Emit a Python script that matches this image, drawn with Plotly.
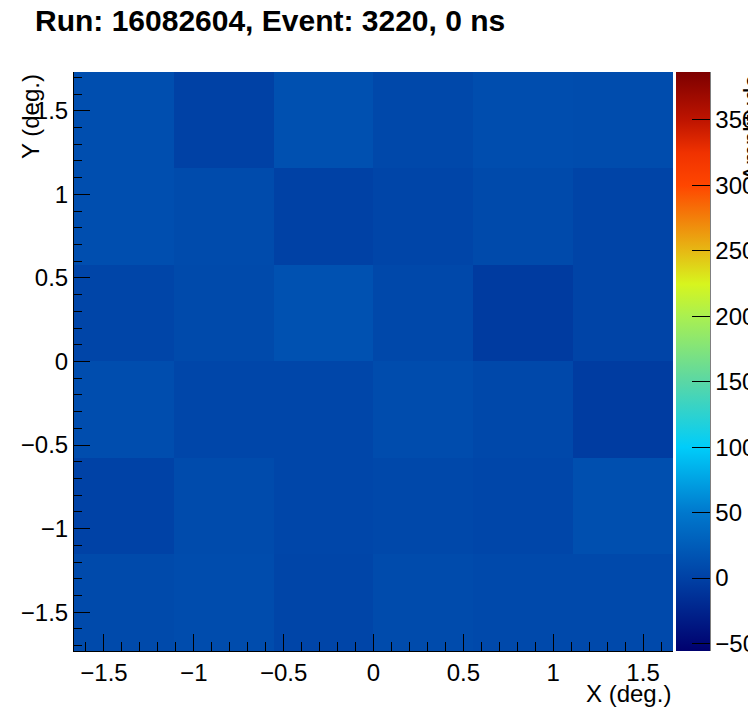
import plotly.graph_objects as go

# Bin centres (deg.)
x_centers = [-1.3889, -0.8333, -0.2778, 0.2778, 0.8333, 1.3889]
y_centers = [-1.4434, -0.8660, -0.2887, 0.2887, 0.8660, 1.4434]

# Amplitudes, rows from bottom (y=-1.44) to top (y=+1.44)
amplitude = [
    [8, 10, 4, 9, 7, 7],
    [1, 9, 5, 6, 5, 13],
    [11, 5, 5, 10, 6, -4],
    [4, 8, 15, 6, -5, 3],
    [12, 9, 0, 4, 8, 3],
    [12, 0, 14, 6, 11, 10],
]

z_min, z_max = -55.7, 386.5
cbar_ticks = [-50, 0, 50, 100, 150, 200, 250, 300, 350]

title_text = "Run: 16082604, Event: 3220, 0 ns"
x_title = "X (deg.)"
y_title = "Y (deg.)"
z_title = "Amplitude"

palette = [
    [0.000, "rgb(0,0,110)"],
    [0.126, "rgb(0,65,165)"],
    [0.239, "rgb(0,120,205)"],
    [0.352, "rgb(0,205,250)"],
    [0.465, "rgb(90,215,165)"],
    [0.578, "rgb(170,240,80)"],
    [0.634, "rgb(215,245,30)"],
    [0.691, "rgb(230,185,20)"],
    [0.804, "rgb(255,70,0)"],
    [0.860, "rgb(240,50,0)"],
    [0.917, "rgb(190,20,0)"],
    [1.000, "rgb(125,0,0)"],
]

FONT = "Liberation Sans, Arial, Helvetica, sans-serif"
W, H = 748, 724
L, T = 74, 72
R = W - 673
B = H - 651
pw = W - L - R
TS = 24

fig = go.Figure(go.Heatmap(
    x=x_centers, y=y_centers, z=amplitude,
    zmin=z_min, zmax=z_max, colorscale=palette,
    colorbar=dict(
        x=(676 - L) / pw, xanchor="left", xref="paper",
        y=0.5, yanchor="middle", len=1.0, lenmode="fraction",
        thickness=34, thicknessmode="pixels",
        outlinewidth=0,
        tickvals=cbar_ticks, ticks="inside", ticklen=18, tickcolor="black",
        tickfont=dict(family=FONT, size=TS, color="black"),
        ypad=0, xpad=0,
    ),
))

tv = [-1.5, -1, -0.5, 0, 0.5, 1, 1.5]
tt = ["\u22121.5", "\u22121", "\u22120.5", "0", "0.5", "1", "1.5"]

fig.update_xaxes(
    range=[-5/3, 5/3], showgrid=False, zeroline=False,
    showline=True, linecolor="black", linewidth=1,
    ticks="inside", ticklen=17, tickcolor="black",
    tickvals=tv, ticktext=tt,
    tickfont=dict(family=FONT, size=TS, color="black"),
    minor=dict(ticks="inside", ticklen=9, dtick=0.1, tick0=0, tickcolor="black"),
)
fig.update_yaxes(
    range=[-1.732, 1.732], showgrid=False, zeroline=False,
    showline=True, linecolor="black", linewidth=1,
    ticks="inside", ticklen=16, tickcolor="black",
    tickvals=tv, ticktext=tt,
    tickfont=dict(family=FONT, size=TS, color="black"),
    minor=dict(ticks="inside", ticklen=8, dtick=0.1, tick0=0, tickcolor="black"),
)

fig.add_annotation(text=x_title, xref="paper", yref="paper", x=1.0, y=0,
                   xanchor="right", yanchor="top", yshift=-27, showarrow=False,
                   font=dict(family=FONT, size=TS, color="black"))
fig.add_annotation(text=y_title, xref="paper", yref="paper", x=0, y=1.0,
                   xanchor="right", yanchor="top", xshift=-28, textangle=-90,
                   showarrow=False, font=dict(family=FONT, size=TS, color="black"))
fig.add_annotation(text=z_title, xref="paper", yref="paper", x=1.0, y=1.0,
                   xanchor="left", yanchor="top", xshift=(736 - 673), textangle=-90,
                   showarrow=False, font=dict(family=FONT, size=TS, color="black"))
# right edge line of the colour scale
fig.add_shape(type="line", xref="paper", yref="paper",
              x0=(710 - L) / pw, x1=(710 - L) / pw, y0=0, y1=1,
              line=dict(color="black", width=1))

fig.update_layout(
    width=W, height=H,
    margin=dict(l=L, r=R, t=T, b=B, autoexpand=False),
    paper_bgcolor="white", plot_bgcolor="white",
    title=dict(text="<b>" + title_text + "</b>", x=35 / W, xanchor="left",
               y=1 - 20 / H, yanchor="middle",
               font=dict(family=FONT, size=30, color="black")),
)

fig.write_html(
    "out.html",
    config={"displayModeBar": False},
    post_script="document.body.style.margin='0';document.body.style.overflow='hidden';",
)
